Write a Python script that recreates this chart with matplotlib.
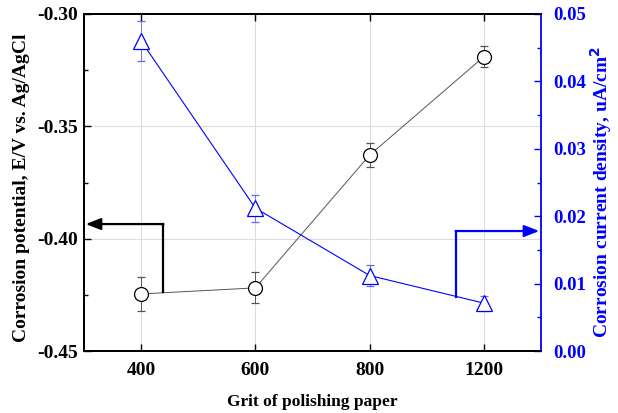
import matplotlib
matplotlib.use("Agg")
import matplotlib.pyplot as plt
import numpy as np

grits = ["400", "600", "800", "1200"]
potential = [-0.4246, -0.4219, -0.3628, -0.3190]
potential_err = [0.0076, 0.0069, 0.0053, 0.0047]
current = [0.0460, 0.0212, 0.0112, 0.0071]
current_err = [0.0030, 0.0020, 0.0015, 0.0011]

plt.rcParams['font.family'] = ['Liberation Serif', 'DejaVu Serif']
plt.rcParams['font.weight'] = 'bold'

W, H = 618, 413
fig = plt.figure(figsize=(W/100, H/100), dpi=100)
ax = fig.add_axes([84/W, 1-351/H, (541-84)/W, (351-14)/H])
ax2 = ax.twinx()

x = np.arange(len(grits))

ax.errorbar(x, potential, yerr=potential_err, color='#555555', lw=0.7,
            elinewidth=0.7, capsize=3, capthick=0.7, marker='o', ms=10,
            mfc='white', mec='black', mew=0.9, zorder=3)
ax2.errorbar(x, current, yerr=current_err, color='blue', lw=0.8,
             elinewidth=0.6, ecolor='#6666ff', capsize=3, capthick=0.6,
             marker='^', ms=11, mfc='white', mec='blue', mew=0.9, zorder=3)

ax.set_xlim(-0.5, 3.5)
ax.set_ylim(-0.45, -0.30)
ax2.set_ylim(0, 0.05)
ax.set_xticks(x)
ax.set_xticklabels(grits)
ax.set_yticks([-0.45, -0.40, -0.35, -0.30])
ax.set_yticklabels(["-0.45", "-0.40", "-0.35", "-0.30"])
ax.set_yticks(np.arange(-0.425, -0.30, 0.05), minor=True)
ax2.set_yticks([0, 0.01, 0.02, 0.03, 0.04, 0.05])
ax2.set_yticklabels(["0.00", "0.01", "0.02", "0.03", "0.04", "0.05"])
ax2.set_yticks(np.arange(0.005, 0.05, 0.01), minor=True)

ax.grid(True, which='major', color='#dddddd', lw=0.8)
ax.set_axisbelow(True)

ax.tick_params(axis='x', direction='in', top=True, length=5, width=1,
               labelsize=14, pad=8)
ax.tick_params(axis='y', which='both', direction='in', length=5, width=1,
               labelsize=14, pad=4)
ax.tick_params(axis='y', which='minor', length=3)
ax2.tick_params(axis='y', which='both', direction='in', length=5, width=1,
                labelsize=13.5, colors='blue', pad=9)
ax2.tick_params(axis='y', which='minor', length=3)

for s in ['left', 'top', 'bottom']:
    ax.spines[s].set_linewidth(1.3)
    ax2.spines[s].set_linewidth(1.3)
ax2.spines['right'].set_color('blue')
ax2.spines['right'].set_linewidth(1.3)
ax.spines['right'].set_visible(False)

for lab in ax.get_xticklabels() + ax.get_yticklabels() + ax2.get_yticklabels():
    lab.set_fontweight('bold')

fig.text(312.5/W, 1-406/H, "Grit of polishing paper", fontsize=12.5,
         fontweight='bold', ha='center', va='baseline')
fig.text(21.5/W, 1-187.5/H, "Corrosion potential, E/V vs. Ag/AgCl", fontsize=14,
         fontweight='bold', rotation=90, ha='center', va='center')
fig.text(601.5/W, 1-192/H, "Corrosion current density, uA/cm$^\\mathbf{2}$", fontsize=14,
         fontweight='bold', color='blue', rotation=90, ha='center', va='center')

# black arrow pointing to left axis
ax.plot([0.19, 0.19], [-0.4237, -0.3935], color='black', lw=1.6, zorder=4, clip_on=False)
ax.annotate("", xy=(-0.485, -0.3935), xytext=(0.19 + 0.005, -0.3935),
            arrowprops=dict(arrowstyle='-|>,head_length=0.9,head_width=0.35',
                            color='black', lw=1.6, shrinkA=0, shrinkB=0), zorder=4)
# blue arrow pointing to right axis
ax2.plot([2.758, 2.758], [0.0080, 0.0178], color='blue', lw=1.6, zorder=4, clip_on=False)
ax2.annotate("", xy=(3.485, 0.0178), xytext=(2.758 - 0.005, 0.0178),
             arrowprops=dict(arrowstyle='-|>,head_length=0.9,head_width=0.35',
                             color='blue', lw=1.6, shrinkA=0, shrinkB=0), zorder=4)

fig.savefig("out.png", dpi=100)
